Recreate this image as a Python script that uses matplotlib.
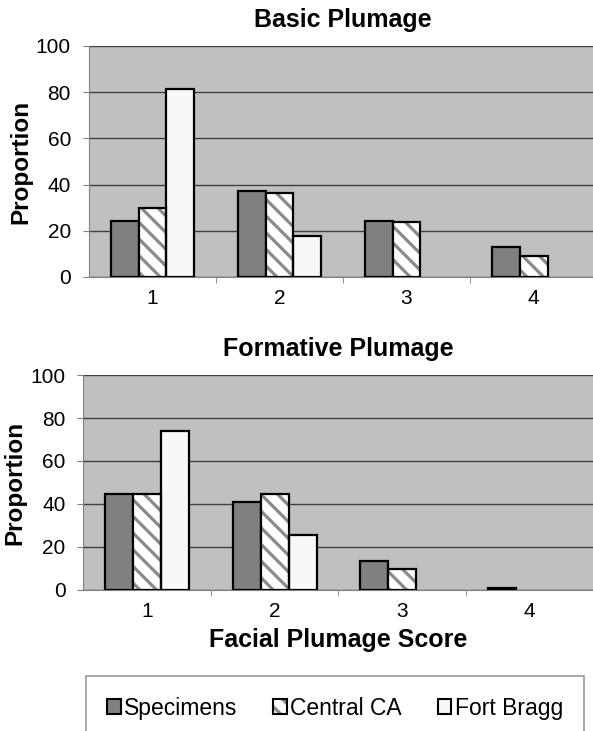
import matplotlib
matplotlib.use('Agg')
import matplotlib.pyplot as plt
import numpy as np
from matplotlib.patches import Patch

plt.rcParams['font.family'] = ['Liberation Sans', 'DejaVu Sans']
plt.rcParams['hatch.linewidth'] = 2.3

# Data
scores = ['1', '2', '3', '4']
series = ['Specimens', 'Central CA', 'Fort Bragg']
basic_specimens = [24.4, 37.4, 24.4, 13.0]
basic_central = [29.9, 36.4, 23.7, 8.9]
basic_fort = [81.5, 17.9, 0, 0]
form_specimens = [44.5, 41.1, 13.6, 1.0]
form_central = [44.7, 44.7, 9.8, 0]
form_fort = [74.1, 25.6, 0, 0]

colors = ['#808080', 'white', '#f8f8f8']
hatches = [None, '\\\\', None]
hatch_gray = '#8a8a8a'

fig = plt.figure(figsize=(5.93, 7.31), dpi=100)
ax1 = fig.add_axes([0.1501, 0.6211, 0.8567, 0.316])
ax2 = fig.add_axes([0.1408, 0.1929, 0.860, 0.2941])


def draw(ax, values, title, ypad):
    x = np.arange(len(scores))
    w = 0.22
    ax.set_facecolor('#c0c0c0')
    ax.set_axisbelow(True)
    ax.yaxis.grid(True, color='#404040', linewidth=1)
    for i, vals in enumerate(values):
        vals = np.array(vals, dtype=float)
        keep = vals > 0
        xs = x[keep] + (i - 1) * w
        if hatches[i]:
            # hatch in gray, outline in black
            ax.bar(xs, vals[keep], w, color=colors[i], hatch=hatches[i],
                   edgecolor=hatch_gray, linewidth=0, zorder=3)
            ax.bar(xs, vals[keep], w, fill=False, edgecolor='black',
                   linewidth=1.6, zorder=4)
        else:
            ax.bar(xs, vals[keep], w, color=colors[i], edgecolor='black',
                   linewidth=1.6, zorder=3)
    ax.set_xlim(-0.5, 3.5)
    ax.set_ylim(0, 100)
    ax.set_yticks(range(0, 101, 20))
    ax.set_xticks(x)
    ax.set_xticklabels(scores)
    ax.set_xticks(np.arange(0.5, 3.5, 1), minor=True)
    ax.tick_params(axis='x', which='major', length=0, labelsize=15, pad=9)
    ax.tick_params(axis='x', which='minor', length=4.5, color='#808080')
    ax.tick_params(axis='y', length=4.5, color='#808080', labelsize=15, pad=8.5)
    for s in ['top', 'right']:
        ax.spines[s].set_visible(False)
    for s in ['left', 'bottom']:
        ax.spines[s].set_color('#808080')
    ax.set_ylabel('Proportion', fontsize=17.5, fontweight='bold', labelpad=ypad)
    ax.set_title(title, fontsize=18, fontweight='bold', pad=14)


draw(ax1, [basic_specimens, basic_central, basic_fort], 'Basic Plumage', 2.5)
draw(ax2, [form_specimens, form_central, form_fort], 'Formative Plumage', 2.5)
ax2.set_xlabel('Facial Plumage Score', fontsize=18, fontweight='bold', labelpad=5)

handles = [
    Patch(facecolor=colors[0], edgecolor='black', linewidth=1.5),
    (Patch(facecolor=colors[1], hatch=hatches[1], edgecolor=hatch_gray, linewidth=0),
     Patch(fill=False, edgecolor='black', linewidth=1.5)),
    Patch(facecolor=colors[2], edgecolor='black', linewidth=1.5),
]
leg = fig.legend(handles, series, loc='center', bbox_to_anchor=(0.565, 0.031),
                 ncol=3, fontsize=16.5, frameon=True, fancybox=False,
                 handlelength=0.6, handleheight=0.6, handletextpad=0.15,
                 columnspacing=1.55, borderpad=0.9, borderaxespad=0)
leg.get_frame().set_edgecolor('#808080')
leg.get_frame().set_linewidth(1.2)

fig.savefig('out.png', dpi=100)
